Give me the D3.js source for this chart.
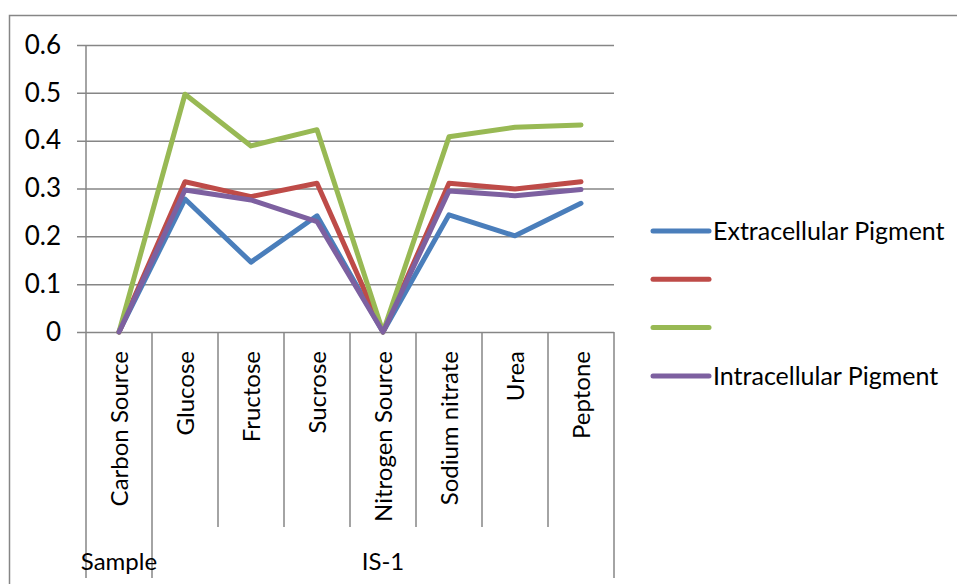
<!DOCTYPE html>
<html>
<head>
<meta charset="utf-8">
<script src="https://cdn.jsdelivr.net/npm/d3@7"></script>
<style>
  html, body { margin: 0; padding: 0; background: #fff; }
  svg { display: block; }
  text { font-family: Lato, "Open Sans", sans-serif; fill: #000; }
</style>
</head>
<body>
<svg id="chart" width="957" height="584"></svg>
<script>
// Pigment yield per nutrient source
const categories = ["Carbon Source", "Glucose", "Fructose", "Sucrose",
                    "Nitrogen Source", "Sodium nitrate", "Urea", "Peptone"];
const groups = [
  { label: "Sample", span: 1 },
  { label: "IS-1", span: 7 }
];
const seriesNames = ["Extracellular Pigment", "", "", "Intracellular Pigment"];
const extracellular = [0, 0.278, 0.146, 0.243, 0, 0.245, 0.201, 0.269];
const seriesRed     = [0, 0.314, 0.283, 0.311, 0, 0.311, 0.299, 0.314];
const seriesGreen   = [0, 0.497, 0.389, 0.423, 0, 0.408, 0.428, 0.433];
const intracellular = [0, 0.297, 0.276, 0.231, 0, 0.295, 0.285, 0.298];
const yTicks = [0, 0.1, 0.2, 0.3, 0.4, 0.5, 0.6];

const seriesValues = [extracellular, seriesRed, seriesGreen, intracellular];
const colors = ["#4a7ebb", "#be4b48", "#98b954", "#7d60a0"];
const gridColor = "#868686";

const svg = d3.select("#chart");
const plot = { left: 86, right: 614, top: 45, bottom: 332 };

const x = d3.scaleBand().domain(categories).range([plot.left, plot.right]).padding(0);
const y = d3.scaleLinear().domain([0, 0.6]).range([plot.bottom, plot.top]);

// chart area frame
svg.append("rect")
  .attr("x", 9.5).attr("y", 15.5).attr("width", 1000).attr("height", 700)
  .attr("fill", "none").attr("stroke", gridColor).attr("stroke-width", 1.5);

// horizontal gridlines and y axis
const yAxis = d3.axisLeft(y).tickValues(yTicks)
  .tickSize(-(plot.right - plot.left)).tickPadding(25)
  .tickFormat(d => d === 0 ? "0" : d3.format(".1f")(d));
const gy = svg.append("g").attr("transform", `translate(${plot.left},0)`).call(yAxis);
gy.select(".domain").remove();
gy.selectAll(".tick line").attr("stroke", gridColor).attr("stroke-width", 1.5)
  .attr("x1", -9);
gy.selectAll(".tick text").attr("font-size", 26).attr("fill", "#000")
  .attr("font-family", "Lato, sans-serif");

// y axis line
svg.append("line")
  .attr("x1", plot.left).attr("x2", plot.left)
  .attr("y1", plot.top).attr("y2", plot.bottom)
  .attr("stroke", gridColor).attr("stroke-width", 1.5);

// category dividers below the axis
const innerBottom = 527, outerBottom = 578;
const groupEdges = new Set([0]);
let acc = 0;
groups.forEach(g => { acc += g.span; groupEdges.add(acc); });
d3.range(categories.length + 1).forEach(i => {
  const xp = i < categories.length ? x(categories[i]) : x.range()[1];
  svg.append("line")
    .attr("x1", xp).attr("x2", xp)
    .attr("y1", plot.bottom).attr("y2", groupEdges.has(i) ? outerBottom : innerBottom)
    .attr("stroke", gridColor).attr("stroke-width", 1.5);
});

// category labels, rotated
svg.append("g").selectAll("text").data(categories).join("text")
  .attr("transform", d => `translate(${x(d) + x.bandwidth() / 2},351) rotate(-90)`)
  .attr("text-anchor", "end").attr("dy", "0.36em")
  .attr("font-size", 24).text(d => d);

// group labels
acc = 0;
groups.forEach(g => {
  const x0 = x(categories[acc]);
  const x1 = acc + g.span < categories.length ? x(categories[acc + g.span]) : x.range()[1];
  svg.append("text").attr("x", (x0 + x1) / 2).attr("y", 570)
    .attr("text-anchor", "middle").attr("font-size", 24).text(g.label);
  acc += g.span;
});

// series lines
const line = d3.line()
  .x((d, i) => x(categories[i]) + x.bandwidth() / 2)
  .y(d => y(d));
svg.append("g").selectAll("path").data(seriesValues).join("path")
  .attr("d", d => line(d))
  .attr("fill", "none")
  .attr("stroke", (d, i) => colors[i])
  .attr("stroke-width", 5)
  .attr("stroke-linejoin", "round")
  .attr("stroke-linecap", "round");

// legend
const legend = svg.append("g");
seriesNames.forEach((name, i) => {
  const ly = 231 + i * 48.3;
  legend.append("line")
    .attr("x1", 653).attr("x2", 709).attr("y1", ly).attr("y2", ly)
    .attr("stroke", colors[i]).attr("stroke-width", 5).attr("stroke-linecap", "round");
  legend.append("text").attr("x", 713).attr("y", ly).attr("dy", "0.35em")
    .attr("font-size", 25).text(name);
});
</script>
</body>
</html>
